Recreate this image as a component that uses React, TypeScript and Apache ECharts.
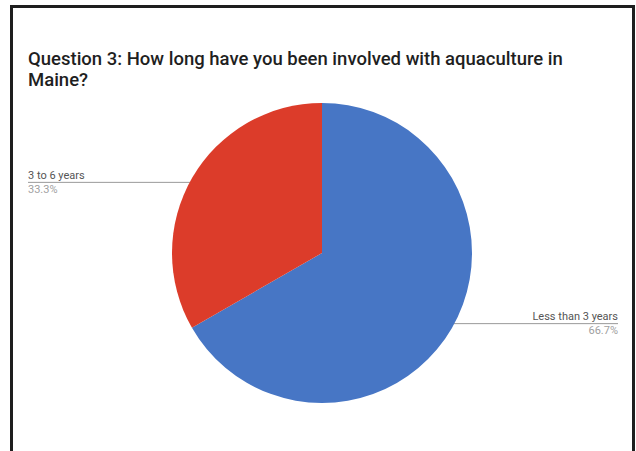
import React, { useEffect, useRef } from "react";
import * as echarts from "echarts";

// Survey answers and their shares (percent of respondents)
const categories = ["Less than 3 years", "3 to 6 years"];
const shares = [66.7, 33.3];
const sliceColors = ["#4776c5", "#dc3c2a"];

const titleText =
  "Question 3: How long have you been involved with aquaculture in\nMaine?";

// Pie geometry (pixels)
const CX = 322;
const CY = 253;
const R = 150;
// Outer edges of the label columns
const LABEL_LEFT = 28;
const LABEL_RIGHT = 618;

export default function App() {
  const ref = useRef<HTMLDivElement>(null);

  useEffect(() => {
    if (!ref.current) return;
    const chart = echarts.init(ref.current, null, { renderer: "svg" });

    const option = {
      animation: false,
      backgroundColor: "#ffffff",
      title: {
        text: titleText,
        left: 28,
        top: 48,
        padding: 0,
        textStyle: {
          fontFamily: "Roboto",
          fontSize: 18.5,
          fontWeight: 500,
          color: "#1f1f1f",
          lineHeight: 21,
        },
      },
      graphic: [
        // dark frame around the card
        { type: "rect", shape: { x: 10, y: 5, width: 625, height: 3 }, style: { fill: "#1e1e1e" }, silent: true },
        { type: "rect", shape: { x: 10, y: 5, width: 3, height: 446 }, style: { fill: "#1e1e1e" }, silent: true },
        { type: "rect", shape: { x: 632, y: 5, width: 3, height: 446 }, style: { fill: "#1e1e1e" }, silent: true },
      ],
      series: [
        {
          type: "pie",
          center: [CX, CY],
          radius: R,
          startAngle: 90,
          clockwise: true,
          silent: true,
          avoidLabelOverlap: false,
          itemStyle: { borderWidth: 0 },
          label: {
            show: true,
            position: "outer",
            formatter: "{name|{b}}\n{pct|{c}%}",
            fontFamily: "Roboto",
            rich: {
              name: { fontFamily: "Roboto", fontSize: 11, color: "#555555", lineHeight: 14 },
              pct: { fontFamily: "Roboto", fontSize: 11, color: "#a0a0a0", lineHeight: 14 },
            },
          },
          labelLine: {
            show: true,
            length: 0,
            length2: 10,
            lineStyle: { color: "#9a9a9a", width: 1 },
          },
          labelLayout: (params: any) => {
            const p0 = params.labelLinePoints[0];
            // start the leader a little inside the slice, then run it flat
            const sx = CX + (p0[0] - CX) * 0.94;
            const sy = CY + (p0[1] - CY) * 0.94;
            const isLeft = sx < CX;
            const ex = isLeft ? LABEL_LEFT : LABEL_RIGHT;
            return {
              x: ex,
              y: sy,
              align: isLeft ? "left" : "right",
              verticalAlign: "middle",
              labelLinePoints: [
                [sx, sy],
                [sx, sy],
                [ex, sy],
              ],
            };
          },
          data: categories.map((name, i) => ({
            name,
            value: shares[i],
            itemStyle: { color: sliceColors[i] },
          })),
        },
      ],
    };

    chart.setOption(option as any);
    return () => chart.dispose();
  }, []);

  return (
    <div
      ref={ref}
      style={{ position: "absolute", left: 0, top: 0, width: 636, height: 451 }}
    />
  );
}
